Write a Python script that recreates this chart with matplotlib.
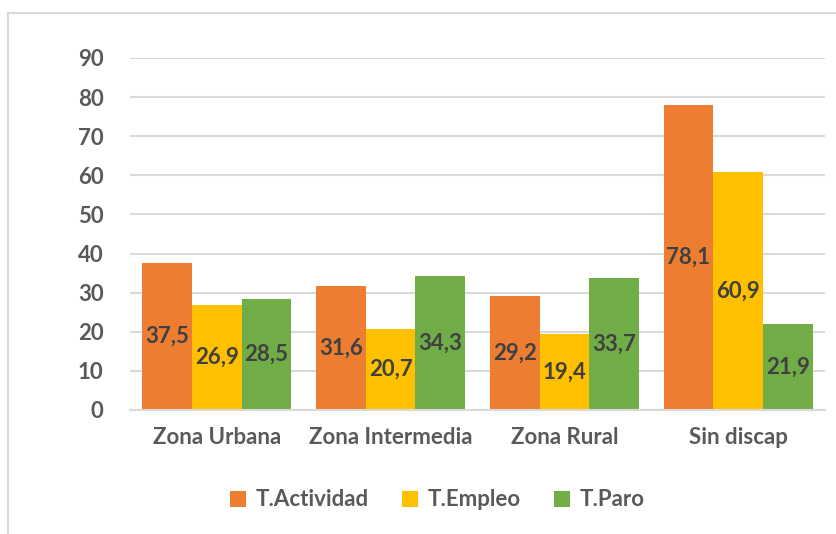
import matplotlib
matplotlib.use("Agg")
import matplotlib.pyplot as plt
from matplotlib.lines import Line2D
from matplotlib.patches import Patch
import numpy as np

# Data
categories = ["Zona Urbana", "Zona Intermedia", "Zona Rural", "Sin discap"]
series_names = ["T.Actividad", "T.Empleo", "T.Paro"]
actividad = [37.5, 31.6, 29.2, 78.1]
empleo = [26.9, 20.7, 19.4, 60.9]
paro = [28.5, 34.3, 33.7, 21.9]
colors = ["#ED7D31", "#FFC000", "#70AD47"]

plt.rcParams['font.family'] = ['Lato', 'DejaVu Sans']

W, H = 837, 534
fig = plt.figure(figsize=(W / 100, H / 100), dpi=100)
ax = fig.add_axes([130 / W, 1 - 410 / H, 695 / W, (410 - 58) / H])

x = np.arange(len(categories))
w = 1 / 3.5
for i, (vals, name, col) in enumerate(zip([actividad, empleo, paro], series_names, colors)):
    pos = x + (i - 1) * w
    bars = ax.bar(pos, vals, width=w, color=col, zorder=2)
    for b, v in zip(bars, vals):
        ax.text(b.get_x() + b.get_width() / 2, v / 2, f"{v:.1f}".replace(".", ","),
                ha='center', va='center', fontsize=16, fontweight='bold',
                color='#404040', zorder=3)

ax.set_xlim(-0.5, len(categories) - 0.5)
ax.set_ylim(0, 90)
ax.set_yticks(range(0, 91, 10))
ax.yaxis.grid(True, color='#D9D9D9', linewidth=1.5, zorder=0)
ax.set_axisbelow(True)
for s in ['top', 'right', 'left']:
    ax.spines[s].set_visible(False)
ax.spines['bottom'].set_color('#D9D9D9')
ax.spines['bottom'].set_linewidth(1.5)
ax.tick_params(axis='both', length=0, labelsize=16, labelcolor='#595959')
ax.tick_params(axis='y', pad=19)
ax.tick_params(axis='x', pad=12)
ax.set_xticks(x)
ax.set_xticklabels(categories, fontweight='bold')
for t in ax.get_yticklabels():
    t.set_fontweight('bold')

handles = [Patch(facecolor=c, label=n) for c, n in zip(colors, series_names)]
leg = fig.legend(handles=handles, loc='center', bbox_to_anchor=(437 / W, 1 - 500 / H),
                 ncol=3, frameon=False, fontsize=16, handlelength=0.75, handleheight=0.75,
                 handletextpad=0.4, columnspacing=1.5)
for t in leg.get_texts():
    t.set_fontweight('bold')
    t.set_color('#595959')

# Chart frame (top and left edges visible)
fig.add_artist(Line2D([8.5 / W, 8.5 / W], [0, 1 - 13 / H], color='#D9D9D9', linewidth=1.5))
fig.add_artist(Line2D([8.5 / W, 1], [1 - 13 / H, 1 - 13 / H], color='#D9D9D9', linewidth=1.5))

plt.savefig("out.png", dpi=100)
